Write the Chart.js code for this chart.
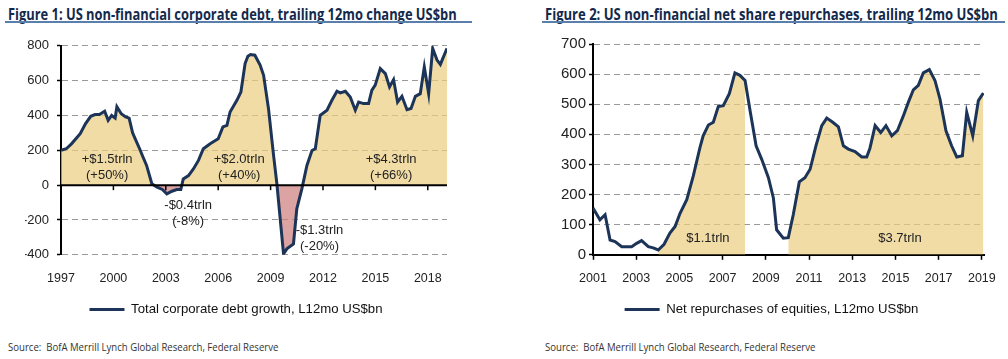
<!DOCTYPE html>
<html lang="en">
<head>
    <title>US corporate debt and net share repurchases</title>
    <script src="https://cdn.jsdelivr.net/npm/chart.js"></script>
    <style>
        body { margin: 0; background: #fff; width: 1008px; height: 359px; position: relative; overflow: hidden; }
        .title { position: absolute; top: 3px; font: bold 16px "Open Sans", "Noto Sans", sans-serif; color: #13294b; white-space: nowrap; transform-origin: 0 0; }
        .rule { position: absolute; top: 21px; height: 2px; background: #5b7fad; }
        .source { position: absolute; top: 339px; font: 11px "Open Sans", "Noto Sans", sans-serif; color: #333; white-space: nowrap; transform-origin: 0 0; }
        canvas { position: absolute; top: 30px; }
    </style>
</head>
<body>
    <div class="title" data-w="449" style="left:8px">Figure 1: US non-financial corporate debt, trailing 12mo change US$bn</div>
    <div class="rule" style="left:5px; width:467px"></div>
    <div class="title" data-w="453" style="left:545px">Figure 2: US non-financial net share repurchases, trailing 12mo US$bn</div>
    <div class="rule" style="left:542px; width:463px"></div>

    <canvas id="debtChart" width="490" height="300" style="left:0"></canvas>
    <canvas id="buybackChart" width="478" height="300" style="left:530px"></canvas>

    <div class="source" data-w="270" style="left:8px">Source:&nbsp; BofA Merrill Lynch Global Research, Federal Reserve</div>
    <div class="source" data-w="270" style="left:545px">Source:&nbsp; BofA Merrill Lynch Global Research, Federal Reserve</div>

<script>
// figure 1 - corporate debt growth, L12mo US$bn
const debtYears = [1997.0, 1997.3, 1997.6, 1998.1, 1998.4, 1998.7, 1998.95, 1999.2, 1999.5, 1999.7,
    1999.9, 2000.1, 2000.2, 2000.45, 2000.7, 2000.9, 2001.1, 2001.25, 2001.5, 2001.7,
    2001.9, 2002.2, 2002.5, 2002.8, 2003.06, 2003.35, 2003.63, 2003.86, 2004.0, 2004.3,
    2004.58, 2004.87, 2005.15, 2005.54, 2006.0, 2006.27, 2006.5, 2006.68, 2007.07, 2007.3,
    2007.54, 2007.7, 2007.85, 2008.1, 2008.4, 2008.6, 2008.88, 2009.17, 2009.36, 2009.55,
    2009.74, 2009.93, 2010.31, 2010.5, 2010.79, 2011.08, 2011.37, 2011.56, 2011.84, 2012.23,
    2012.51, 2012.8, 2012.99, 2013.28, 2013.56, 2013.85, 2014.04, 2014.32, 2014.61, 2014.8,
    2014.99, 2015.28, 2015.57, 2015.81, 2016.04, 2016.27, 2016.52, 2016.81, 2017.04, 2017.29,
    2017.57, 2017.8, 2018.05, 2018.28, 2018.53, 2018.72, 2019.1];
const debtGrowth = [200, 209, 237, 295, 352, 395, 405, 405, 424, 372,
    400, 385, 450, 410, 392, 385, 300, 266, 209, 160,
    113, 8, -12, -25, -50, -35, -25, -25, 36, 55,
    93, 142, 209, 238, 266, 334, 343, 420, 487, 535,
    698, 740, 750, 746, 689, 631, 439, 171, 8, -194,
    -395, -366, -338, -136, -21, 113, 199, 209, 401, 430,
    487, 539, 530, 539, 506, 430, 477, 468, 468, 545,
    574, 669, 640, 564, 606, 477, 510, 433, 440, 510,
    525, 679, 525, 785, 718, 693, 785];
const debtTicks = [1997, 2000, 2003, 2006, 2009, 2012, 2015, 2018];
const debtNotes = [
    ['+$1.5trln', '(+50%)', 1999.64, 150],
    ['-$0.4trln', '(-8%)', 2004.28, -118],
    ['+$2.0trln', '(+40%)', 2007.2, 150],
    ['-$1.3trln', '(-20%)', 2011.8, -262],
    ['+$4.3trln', '(+66%)', 2015.9, 150]
];

// figure 2 - net repurchases of equities, L12mo US$bn
const buybackYears = [2001.0, 2001.32, 2001.56, 2001.79, 2002.02, 2002.33, 2002.79, 2003.02, 2003.25, 2003.56,
    2003.79, 2004.02, 2004.29, 2004.56, 2004.8, 2005.03, 2005.34, 2005.64, 2005.95, 2006.1,
    2006.34, 2006.57, 2006.8, 2007.03, 2007.31, 2007.57, 2007.8, 2008.04, 2008.27, 2008.55,
    2008.81, 2009.12, 2009.35, 2009.5, 2009.81, 2010.04, 2010.27, 2010.55, 2010.81, 2011.05,
    2011.32, 2011.59, 2011.82, 2012.1, 2012.36, 2012.59, 2012.82, 2013.13, 2013.44, 2013.67,
    2013.82, 2014.06, 2014.32, 2014.56, 2014.83, 2015.09, 2015.37, 2015.6, 2015.83, 2016.06,
    2016.29, 2016.57, 2016.83, 2017.06, 2017.34, 2017.6, 2017.84, 2018.1, 2018.3, 2018.58,
    2018.84, 2019.07];
const buybacks = [155, 116, 133, 49, 44, 27, 27, 38, 47, 27,
    23, 16, 35, 72, 94, 138, 183, 261, 356, 395,
    431, 440, 492, 495, 535, 604, 596, 579, 479, 362,
    317, 256, 189, 83, 55, 57, 133, 242, 256, 284,
    362, 429, 454, 440, 425, 362, 351, 343, 325, 325,
    354, 429, 406, 429, 395, 412, 462, 507, 548, 563,
    604, 615, 579, 518, 412, 362, 325, 329, 473, 395,
    512, 537];
const buybackTicks = [2001, 2003, 2005, 2007, 2009, 2011, 2013, 2015, 2017, 2019];
const buybackShaded = [[2004.0, 2008.05], [2010.0, 2019.1]];
const buybackNotes = [
    ['$1.1trln', 2006.32, 54],
    ['$3.7trln', 2015.21, 54]
];

const NAVY = '#1d3459';
const plain = '"Liberation Sans", Arial, sans-serif';

// squeeze the html titles / source lines to the width they take in the original
document.querySelectorAll('[data-w]').forEach(el => {
    el.style.transform = 'scaleX(' + (el.dataset.w / el.offsetWidth) + ')';
});

// text labels placed in data coordinates
const notesPlugin = {
    id: 'notes',
    afterDatasetsDraw(chart, args, opts) {
        const {ctx, scales: {x, y}} = chart;
        ctx.save();
        ctx.font = '13px ' + plain;
        ctx.fillStyle = '#222';
        ctx.textAlign = 'center';
        ctx.textBaseline = 'middle';
        opts.items.forEach(n => {
            const lines = n.slice(0, -2);
            const px = x.getPixelForValue(n[n.length - 2]);
            const py = y.getPixelForValue(n[n.length - 1]);
            lines.forEach((t, i) => ctx.fillText(t, px, py + i * 16));
        });
        ctx.restore();
    }
};

// black zero line with the year tick marks on it (figure 1)
const zeroAxisPlugin = {
    id: 'zeroAxis',
    afterDatasetsDraw(chart) {
        const {ctx, chartArea, scales: {x, y}} = chart;
        const y0 = y.getPixelForValue(0);
        ctx.save();
        ctx.strokeStyle = '#000';
        ctx.lineWidth = 2;
        ctx.beginPath();
        ctx.moveTo(chartArea.left, y0);
        ctx.lineTo(chartArea.right, y0);
        ctx.stroke();
        ctx.lineWidth = 1.5;
        x.ticks.forEach(t => {
            const px = x.getPixelForValue(t.value);
            ctx.beginPath();
            ctx.moveTo(px, y0);
            ctx.lineTo(px, y0 + 5);
            ctx.stroke();
        });
        ctx.restore();
    }
};

function yScale(min, max, step, fontSize, width, pad) {
    return {
        min: min, max: max,
        afterFit: s => { s.width = width; },
        ticks: { stepSize: step, padding: pad, color: '#222', font: { family: plain, size: fontSize } },
        grid: { color: '#9a9a9a', lineWidth: 1, tickLength: 4, tickColor: '#000', tickWidth: 1.5, tickBorderDash: [] },
        border: { display: true, color: '#000', width: 2, dash: [6, 4] }
    };
}

function legendOpts() {
    return {
        position: 'bottom',
        labels: {
            filter: item => item.datasetIndex === 0,
            usePointStyle: true, pointStyle: 'line', pointStyleWidth: 35,
            color: '#111', padding: 10,
            font: { family: plain, size: 13.2 }
        }
    };
}

new Chart(document.getElementById('debtChart'), {
    type: 'line',
    data: {
        datasets: [{
            label: 'Total corporate debt growth, L12mo US$bn',
            data: debtYears.map((yr, i) => ({ x: yr, y: debtGrowth[i] })),
            borderColor: NAVY, borderWidth: 3, pointRadius: 0, tension: 0,
            fill: { target: 'origin', above: 'rgba(235,205,128,0.7)', below: 'rgba(205,124,124,0.7)' }
        }]
    },
    options: {
        responsive: false, animation: false,
        layout: { padding: { left: 25, top: 14, right: 43, bottom: 4 } },
        scales: {
            x: {
                type: 'linear', min: 1997, max: 2019.1,
                afterBuildTicks: s => { s.ticks = debtTicks.map(v => ({ value: v })); },
                afterFit: s => { s.height = 38; },
                ticks: { padding: 16, color: '#222', font: { family: plain, size: 12.5 }, callback: v => String(v) },
                grid: { display: false, drawTicks: false },
                border: { display: false }
            },
            y: yScale(-400, 800, 200, 13, 36, 8)
        },
        plugins: {
            legend: legendOpts(),
            tooltip: { enabled: false },
            notes: { items: debtNotes }
        }
    },
    plugins: [notesPlugin, zeroAxisPlugin]
});

const inShade = yr => buybackShaded.some(r => yr >= r[0] && yr <= r[1]);

new Chart(document.getElementById('buybackChart'), {
    type: 'line',
    data: {
        datasets: [{
            label: 'Net repurchases of equities, L12mo US$bn',
            data: buybackYears.map((yr, i) => ({ x: yr, y: buybacks[i] })),
            borderColor: NAVY, borderWidth: 3, pointRadius: 0, tension: 0, fill: false
        }, {
            label: 'shaded',
            data: buybackYears.map((yr, i) => ({ x: yr, y: inShade(yr) ? buybacks[i] : null })),
            borderWidth: 0, pointRadius: 0, tension: 0,
            backgroundColor: 'rgba(235,205,128,0.7)', fill: 'origin'
        }]
    },
    options: {
        responsive: false, animation: false,
        layout: { padding: { left: 29, top: 14, right: 24, bottom: 4 } },
        scales: {
            x: {
                type: 'linear', min: 2001, max: 2019.1,
                afterBuildTicks: s => { s.ticks = buybackTicks.map(v => ({ value: v })); },
                afterFit: s => { s.height = 38; },
                ticks: { padding: 11, color: '#222', font: { family: plain, size: 12.5 }, callback: v => String(v) },
                grid: { drawOnChartArea: false, tickLength: 5, tickColor: '#000', tickWidth: 1.5 },
                border: { display: true, color: '#000', width: 2 }
            },
            y: yScale(0, 700, 100, 15, 34, 3)
        },
        plugins: {
            legend: legendOpts(),
            tooltip: { enabled: false },
            notes: { items: buybackNotes }
        }
    },
    plugins: [notesPlugin]
});
</script>
</body>
</html>
